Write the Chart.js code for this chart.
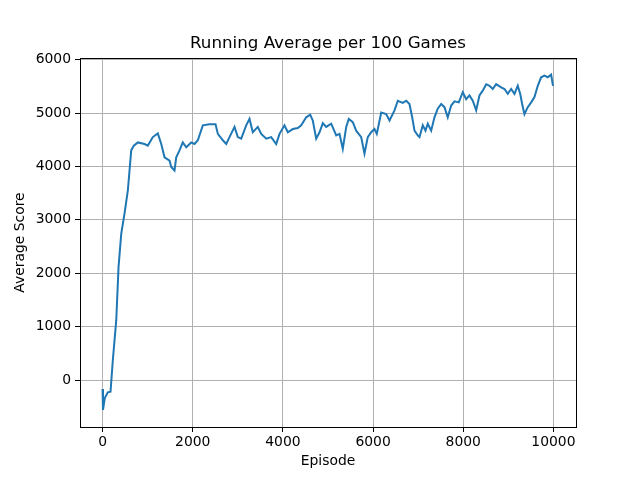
<!DOCTYPE html>
<html>
<head>
<meta charset="utf-8">
<script src="https://cdn.jsdelivr.net/npm/chart.js@4/dist/chart.umd.min.js"></script>
<style>
  html, body { margin: 0; padding: 0; background: #fff; }
  #wrap { width: 640px; height: 480px; }
</style>
</head>
<body>
<div id="wrap"><canvas id="canvas" width="640" height="480"></canvas></div>
<script>
// episodes (x) and running-average score (y)
var episodes = [0, 10, 50, 117, 177, 228, 304, 355, 415, 488, 561, 636, 694, 783, 931,
    1004, 1115, 1226, 1302, 1375, 1486, 1523, 1596, 1634, 1707, 1780, 1856, 1967,
    2040, 2113, 2224, 2373, 2506, 2557, 2668, 2743, 2816, 2927, 3000, 3075, 3186,
    3259, 3333, 3443, 3519, 3630, 3741, 3851, 3925, 4035, 4109, 4220, 4330, 4406,
    4517, 4605, 4663, 4738, 4812, 4885, 4960, 5071, 5182, 5255, 5328, 5404, 5461,
    5550, 5625, 5736, 5809, 5882, 5958, 6031, 6082, 6180, 6290, 6364, 6475, 6548,
    6659, 6734, 6807, 6867, 6918, 6991, 7029, 7102, 7162, 7213, 7288, 7361, 7434,
    7510, 7583, 7656, 7732, 7805, 7900, 7989, 8064, 8137, 8211, 8286, 8359, 8432,
    8508, 8581, 8654, 8729, 8840, 8914, 8987, 9062, 9135, 9208, 9262, 9306, 9357,
    9430, 9506, 9579, 9652, 9727, 9800, 9873, 9948, 9990];
var scores = [-170, -560, -340, -230, -220, 370, 1120, 2120, 2740, 3120, 3550, 4300, 4390, 4450, 4420,
    4390, 4550, 4620, 4420, 4170, 4110, 3990, 3925, 4170, 4300, 4450, 4360, 4450,
    4420, 4490, 4770, 4790, 4790, 4610, 4490, 4420, 4550, 4740, 4550, 4520, 4770,
    4890, 4640, 4740, 4610, 4520, 4550, 4420, 4610, 4770, 4640, 4700, 4720, 4770,
    4920, 4970, 4860, 4520, 4640, 4810, 4740, 4800, 4580, 4610, 4330, 4740, 4890,
    4830, 4670, 4550, 4240, 4550, 4640, 4700, 4610, 5010, 4980, 4860, 5050, 5230,
    5190, 5230, 5170, 4920, 4670, 4580, 4550, 4770, 4670, 4800, 4670, 4920, 5080,
    5170, 5110, 4920, 5140, 5220, 5200, 5390, 5260, 5330, 5230, 5050, 5330, 5420,
    5540, 5510, 5450, 5540, 5480, 5450, 5360, 5450, 5360, 5510, 5360, 5170, 4980,
    5110, 5200, 5300, 5510, 5670, 5700, 5670, 5720, 5510];

var xTicks = [0, 2000, 4000, 6000, 8000, 10000];
var yTicks = [0, 1000, 2000, 3000, 4000, 5000, 6000];

var points = episodes.map(function(e, i) { return {x: e, y: scores[i]}; });

Chart.defaults.font.family = '"DejaVu Sans", sans-serif';
Chart.defaults.color = '#000';

// empty axes on top and right, only to draw the black frame lines
function frameAxis(pos, lo, hi) {
    return {
        type: 'linear',
        position: pos,
        min: lo,
        max: hi,
        ticks: { display: false },
        grid: { display: false, drawTicks: false },
        border: { display: true, color: '#000', width: 1 },
        afterFit: function(scale) {
            if (pos === 'top') scale.height = 0; else scale.width = 0;
        }
    };
}

window.onload = function() {
    var ctx = document.getElementById("canvas").getContext("2d");
    window.myChart = new Chart(ctx, {
        type: 'line',
        data: {
            datasets: [{
                label: 'score',
                data: points,
                borderColor: '#1f77b4',
                borderWidth: 2,
                pointRadius: 0,
                tension: 0,
                fill: false
            }]
        },
        options: {
            responsive: false,
            animation: false,
            layout: { padding: { left: 0, right: 64, top: 0, bottom: 0 } },
            plugins: {
                legend: { display: false },
                tooltip: { enabled: false },
                title: {
                    display: true,
                    fullSize: false,
                    text: 'Running Average per 100 Games',
                    font: { size: 16.7, weight: 'normal' },
                    color: '#000',
                    padding: { top: 34, bottom: 4 }
                }
            },
            scales: {
                x: {
                    type: 'linear',
                    min: -500,
                    max: 10500,
                    afterBuildTicks: function(axis) {
                        axis.ticks = xTicks.map(function(v) { return {value: v}; });
                    },
                    afterFit: function(scale) { scale.height = 53; },
                    ticks: {
                        font: { size: 13.9 },
                        padding: 2,
                        maxRotation: 0,
                        callback: function(v) { return String(v); }
                    },
                    grid: { color: '#b0b0b0', lineWidth: 1, tickColor: '#000', tickLength: 5 },
                    border: { display: true, color: '#000', width: 1 },
                    title: {
                        display: true,
                        text: 'Episode',
                        font: { size: 13.9 },
                        padding: { top: 2, bottom: 10 }
                    }
                },
                y: {
                    type: 'linear',
                    min: -880,
                    max: 6030,
                    afterBuildTicks: function(axis) {
                        axis.ticks = yTicks.map(function(v) { return {value: v}; });
                    },
                    afterFit: function(scale) { scale.width = 80; },
                    ticks: {
                        font: { size: 13.9 },
                        padding: 4,
                        callback: function(v) { return String(v); }
                    },
                    grid: { color: '#b0b0b0', lineWidth: 1, tickColor: '#000', tickLength: 5 },
                    border: { display: true, color: '#000', width: 1 },
                    title: {
                        display: true,
                        text: 'Average Score',
                        font: { size: 13.9 },
                        padding: { top: 12, bottom: 4 }
                    }
                },
                xTop: frameAxis('top', -500, 10500),
                yRight: frameAxis('right', -880, 6030)
            }
        }
    });
};
</script>
</body>
</html>
